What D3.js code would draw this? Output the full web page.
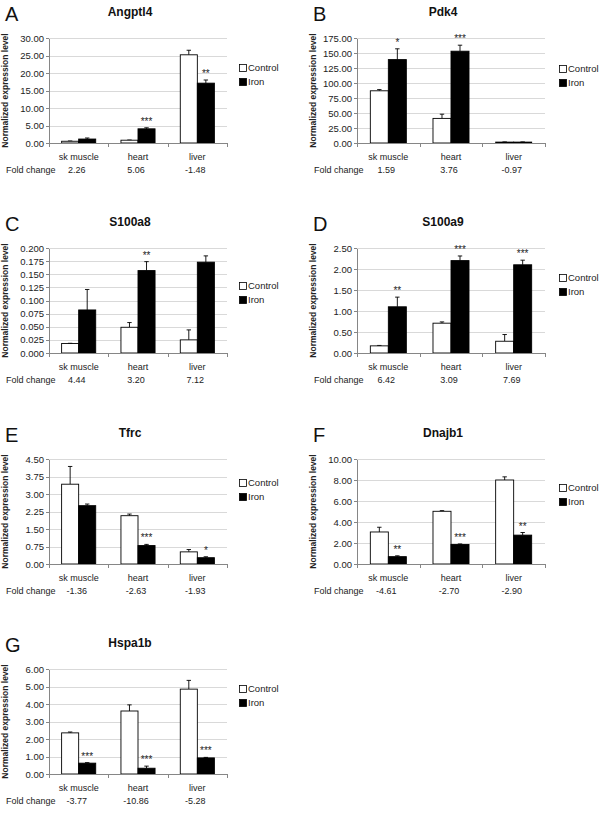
<!DOCTYPE html>
<html>
<head>
<meta charset="utf-8">
<script src="https://d3js.org/d3.v7.min.js"></script>
<style>
	body {
		margin: 0;
		background: #fff;
		font-family: "Liberation Sans", Arial, sans-serif;
	}
	.grid line {
		stroke: #d9d9d9;
		shape-rendering: crispEdges;
	}
	.axis path, .axis line {
		stroke: #868686;
		shape-rendering: crispEdges;
	}
	.axis text {
		font-size: 9.5px;
		fill: #222;
	}
	.small {
		font-size: 9px;
		fill: #222;
	}
	.legend-text {
		font-size: 9.5px;
		fill: #222;
	}
</style>
</head>
<body>
<script>

	// values
	var tissues = ["sk muscle", "heart", "liver"];
	var series = ["Control", "Iron"];
	var letters = ["A", "B", "C", "D", "E", "F", "G"];
	var genes = ["Angptl4", "Pdk4", "S100a8", "S100a9", "Tfrc", "Dnajb1", "Hspa1b"];

	var controlMean = [
		[0.50, 0.80, 25.2],
		[87, 41, 1.5],
		[0.018, 0.049, 0.025],
		[0.17, 0.71, 0.28],
		[3.42, 2.07, 0.52],
		[3.05, 5.02, 8.00],
		[2.35, 3.60, 4.85]
	];
	var controlErr = [
		[0.08, 0.05, 1.3],
		[2, 7, 0.3],
		[0.0005, 0.009, 0.019],
		[0.01, 0.03, 0.16],
		[0.76, 0.07, 0.10],
		[0.45, 0.06, 0.30],
		[0.05, 0.35, 0.50]
	];
	var ironMean = [
		[1.13, 4.05, 17.1],
		[139, 153, 1.5],
		[0.082, 0.157, 0.173],
		[1.10, 2.20, 2.10],
		[2.50, 0.79, 0.27],
		[0.70, 1.86, 2.75],
		[0.62, 0.33, 0.92]
	];
	var ironErr = [
		[0.3, 0.3, 0.9],
		[18, 10, 0.3],
		[0.039, 0.017, 0.012],
		[0.23, 0.11, 0.11],
		[0.07, 0.05, 0.04],
		[0.08, 0.05, 0.25],
		[0.03, 0.12, 0.03]
	];
	var stars = [
		["", "***", "**"],
		["*", "***", ""],
		["", "**", ""],
		["**", "***", "***"],
		["", "***", "*"],
		["**", "***", "**"],
		["***", "***", "***"]
	];
	var foldChange = [
		["2.26", "5.06", "-1.48"],
		["1.59", "3.76", "-0.97"],
		["4.44", "3.20", "7.12"],
		["6.42", "3.09", "7.69"],
		["-1.36", "-2.63", "-1.93"],
		["-4.61", "-2.70", "-2.90"],
		["-3.77", "-10.86", "-5.28"]
	];
	var yMax = [30, 175, 0.2, 2.5, 4.5, 10, 6];
	var yStep = [5, 25, 0.025, 0.5, 0.75, 2, 1];
	var yDecimals = [2, 2, 3, 2, 2, 2, 2];

	// page layout
	var colX = [{left: 0, x0: 49, x1: 227, legend: 239}, {left: 308, x0: 357, x1: 545, legend: 559}];
	var rowTop = [38, 248, 459, 669];
	var plotH = 105;
	var legendDy = [30, 31, 38, 30, 24, 29, 20];

	var svg = d3.select("body").append("svg")
		.attr("width", 600)
		.attr("height", 814);

	genes.forEach(function(gene, i) {
		var col = colX[i % 2];
		var top = rowTop[Math.floor(i / 2)];
		var g = svg.append("g");

		var y = d3.scaleLinear().domain([0, yMax[i]]).range([top + plotH, top]);
		var x0 = d3.scaleBand().domain(tissues).range([col.x0, col.x1]);
		var x1 = d3.scaleBand().domain(series).range([0, x0.bandwidth()]).paddingOuter(0.74);

		var ticks = d3.range(0, yMax[i] + yStep[i] / 2, yStep[i]);

		// gridlines
		g.append("g").attr("class", "grid")
			.selectAll("line").data(ticks.slice(1)).enter().append("line")
			.attr("x1", col.x0).attr("x2", col.x1)
			.attr("y1", function(d) { return Math.round(y(d)) + 0.5; })
			.attr("y2", function(d) { return Math.round(y(d)) + 0.5; });

		var rows = tissues.map(function(t, k) {
			return [
				{t: t, s: "Control", v: controlMean[i][k], e: controlErr[i][k], star: ""},
				{t: t, s: "Iron", v: ironMean[i][k], e: ironErr[i][k], star: stars[i][k]}
			];
		});
		var flat = [].concat.apply([], rows);
		var cx = function(d) { return x0(d.t) + x1(d.s) + x1.bandwidth() / 2; };

		// error bars (upper only)
		var eb = g.append("g").selectAll("g").data(flat).enter().append("g");
		eb.append("line")
			.attr("x1", cx).attr("x2", cx)
			.attr("y1", function(d) { return y(d.v); })
			.attr("y2", function(d) { return y(d.v + d.e); })
			.attr("stroke", "#000").attr("stroke-width", 0.9);
		eb.append("line")
			.attr("x1", function(d) { return cx(d) - 2.2; })
			.attr("x2", function(d) { return cx(d) + 2.2; })
			.attr("y1", function(d) { return y(d.v + d.e); })
			.attr("y2", function(d) { return y(d.v + d.e); })
			.attr("stroke", "#000").attr("stroke-width", 0.9);

		// bars
		g.append("g").selectAll("rect").data(flat).enter().append("rect")
			.attr("x", function(d) { return x0(d.t) + x1(d.s); })
			.attr("width", x1.bandwidth())
			.attr("y", function(d) { return y(d.v); })
			.attr("height", function(d) { return y(0) - y(d.v); })
			.attr("fill", function(d) { return d.s == "Iron" ? "#000" : "#fff"; })
			.attr("stroke", "#000")
			.attr("stroke-width", 0.9);

		// significance stars
		g.append("g").selectAll("text").data(flat.filter(function(d) { return d.star; }))
			.enter().append("text")
			.attr("x", cx)
			.attr("y", function(d) { return y(d.v + d.e) - 3; })
			.attr("text-anchor", "middle")
			.style("font-size", "10px")
			.style("fill", "#222")
			.text(function(d) { return d.star; });

		// y axis
		var yAxis = d3.axisLeft(y).tickValues(ticks).tickSize(3).tickSizeOuter(0)
			.tickFormat(d3.format("." + yDecimals[i] + "f"));
		g.append("g").attr("class", "axis")
			.attr("transform", "translate(" + col.x0 + ",0)")
			.call(yAxis)
			.selectAll("text").attr("x", -5);

		// x axis with ticks between categories
		var xg = g.append("g").attr("class", "axis");
		xg.append("line")
			.attr("x1", col.x0).attr("x2", col.x1)
			.attr("y1", y(0) + 0.5).attr("y2", y(0) + 0.5);
		xg.selectAll("line.tk").data(d3.range(tissues.length + 1)).enter().append("line")
			.attr("class", "tk")
			.attr("x1", function(k) { return Math.round(col.x0 + k * x0.step()) + 0.5; })
			.attr("x2", function(k) { return Math.round(col.x0 + k * x0.step()) + 0.5; })
			.attr("y1", y(0)).attr("y2", y(0) + 4);
		g.append("g").selectAll("text").data(tissues).enter().append("text")
			.attr("class", "legend-text")
			.attr("x", function(d) { return x0(d) + x0.bandwidth() / 2; })
			.attr("y", y(0) + 17)
			.attr("text-anchor", "middle")
			.style("font-size", "9px")
			.text(function(d) { return d; });

		// fold change row
		g.append("text").attr("class", "small")
			.attr("x", col.left + 6).attr("y", y(0) + 30)
			.text("Fold change");
		g.append("g").selectAll("text").data(tissues).enter().append("text")
			.attr("class", "small")
			.attr("x", function(d) { return x0(d) + x0.bandwidth() / 2 - 2; })
			.attr("y", y(0) + 30)
			.attr("text-anchor", "middle")
			.text(function(d, k) { return foldChange[i][k]; });

		// y axis title
		g.append("text")
			.attr("transform", "translate(" + (col.left + 5) + "," + (top + plotH / 2) + ") rotate(-90)")
			.attr("dy", "0.35em")
			.attr("text-anchor", "middle")
			.style("font-size", "8.5px")
			.style("font-weight", "bold")
			.style("fill", "#222")
			.text("Normalized expression level");

		// title and panel letter
		g.append("text")
			.attr("x", (col.x0 + col.x1) / 2 - 8)
			.attr("y", top - 22)
			.attr("text-anchor", "middle")
			.style("font-size", "12px")
			.style("font-weight", "bold")
			.style("fill", "#111")
			.text(gene);
		g.append("text")
			.attr("x", col.left + 5)
			.attr("y", top - 17)
			.style("font-size", "20px")
			.style("fill", "#111")
			.text(letters[i]);

		// legend
		var lg = g.append("g").selectAll("g").data(series).enter().append("g")
			.attr("transform", function(d, k) { return "translate(" + col.legend + "," + (top + legendDy[i] + k * 14) + ")"; });
		lg.append("rect")
			.attr("x", 0.5).attr("y", -3.5).attr("width", 7).attr("height", 7)
			.attr("fill", function(d) { return d == "Iron" ? "#000" : "#fff"; })
			.attr("stroke", "#000").attr("stroke-width", 0.8);
		lg.append("text").attr("class", "legend-text")
			.attr("x", 9).attr("dy", "0.35em")
			.text(function(d) { return d; });
	});

</script>
</body>
</html>
